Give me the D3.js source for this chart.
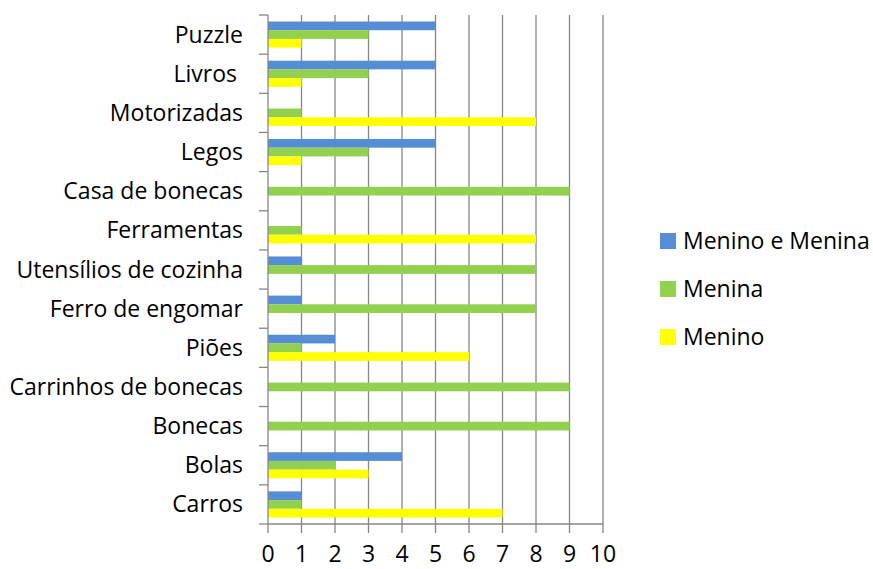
<!DOCTYPE html>
<html>
<head>
<meta charset="utf-8">
<script src="https://cdn.jsdelivr.net/npm/d3@7"></script>
<style>
  body { margin: 0; background: #fff; }
  text { font-family: "Open Sans", Lato, sans-serif; fill: #000; white-space: pre; }
</style>
</head>
<body>
<div id="chart"></div>
<script>
// Categories, top to bottom
const categories = ['Puzzle', 'Livros ', 'Motorizadas', 'Legos', 'Casa de bonecas', 'Ferramentas',
    'Utensílios de cozinha', 'Ferro de engomar', 'Piões', 'Carrinhos de bonecas', 'Bonecas', 'Bolas', 'Carros'];
const seriesNames = ['Menino e Menina', 'Menina', 'Menino'];
const meninoEMenina = [5, 5, 0, 5, 0, 0, 1, 1, 2, 0, 0, 4, 1];
const menina = [3, 3, 1, 3, 9, 1, 8, 8, 1, 9, 9, 2, 1];
const menino = [1, 1, 8, 1, 0, 8, 0, 0, 6, 0, 0, 3, 7];
const xTicks = [0, 1, 2, 3, 4, 5, 6, 7, 8, 9, 10];
const colors = ['#558ed5', '#92d050', '#ffff00'];

const width = 873;
const height = 569;
const plot = { left: 268, right: 603, top: 15, bottom: 524 };
const fontSize = '23px';

const svg = d3.select('#chart').append('svg')
    .attr('width', width)
    .attr('height', height);

const x = d3.scaleLinear().domain([0, 10]).range([plot.left, plot.right]);
const y = d3.scaleBand().domain(categories).range([plot.top, plot.bottom]);
const barH = y.bandwidth() / 4.5;   // gap width 150%
const series = [meninoEMenina, menina, menino];

// Gridlines
svg.append('g')
    .selectAll('line')
    .data(xTicks.slice(1))
    .enter().append('line')
    .attr('x1', d => x(d)).attr('x2', d => x(d))
    .attr('y1', plot.top).attr('y2', plot.bottom)
    .attr('stroke', '#878787').attr('stroke-width', 1.3);

// Bars
series.forEach((vals, s) => {
    svg.append('g')
        .selectAll('rect')
        .data(categories.map((c, i) => ({ c, v: vals[i] })))
        .enter().append('rect')
        .attr('x', x(0))
        .attr('y', d => y(d.c) + barH * (0.75 + s))
        .attr('width', d => x(d.v) - x(0))
        .attr('height', barH)
        .attr('fill', colors[s]);
});

// Axes
const axisColor = '#878787';
const yAxis = svg.append('g')
    .attr('transform', `translate(${plot.left},0)`);
yAxis.append('line')
    .attr('x1', 0).attr('x2', 0).attr('y1', plot.top).attr('y2', plot.bottom)
    .attr('stroke', axisColor).attr('stroke-width', 1.3);
yAxis.selectAll('.tick')
    .data(categories.map(c => y(c)).concat([plot.bottom]))
    .enter().append('line')
    .attr('x1', -9).attr('x2', 0)
    .attr('y1', d => d).attr('y2', d => d)
    .attr('stroke', axisColor).attr('stroke-width', 1.3);
yAxis.selectAll('text')
    .data(categories)
    .enter().append('text')
    .attr('x', -25)
    .attr('y', d => y(d) + y.bandwidth() / 2)
    .attr('dy', '0.35em')
    .attr('text-anchor', 'end')
    .style('font-size', fontSize)
    .text(d => d);

const xAxis = svg.append('g');
xAxis.append('line')
    .attr('x1', plot.left).attr('x2', plot.right).attr('y1', plot.bottom).attr('y2', plot.bottom)
    .attr('stroke', axisColor).attr('stroke-width', 1.3);
xAxis.selectAll('.tick')
    .data(xTicks)
    .enter().append('line')
    .attr('x1', d => x(d)).attr('x2', d => x(d))
    .attr('y1', plot.bottom).attr('y2', plot.bottom + 9)
    .attr('stroke', axisColor).attr('stroke-width', 1.3);
xAxis.selectAll('text')
    .data(xTicks)
    .enter().append('text')
    .attr('x', d => x(d))
    .attr('y', 554)
    .attr('dy', '0.35em')
    .attr('text-anchor', 'middle')
    .style('font-size', fontSize)
    .text(d => d);

// Legend
const legend = svg.append('g').attr('transform', 'translate(660,233)');
seriesNames.forEach((name, i) => {
    const row = legend.append('g').attr('transform', `translate(0,${i * 48})`);
    row.append('rect').attr('width', 16).attr('height', 16).attr('fill', colors[i]);
    row.append('text')
        .attr('x', 23).attr('y', 8).attr('dy', '0.35em')
        .style('font-size', fontSize)
        .text(name);
});
</script>
</body>
</html>
